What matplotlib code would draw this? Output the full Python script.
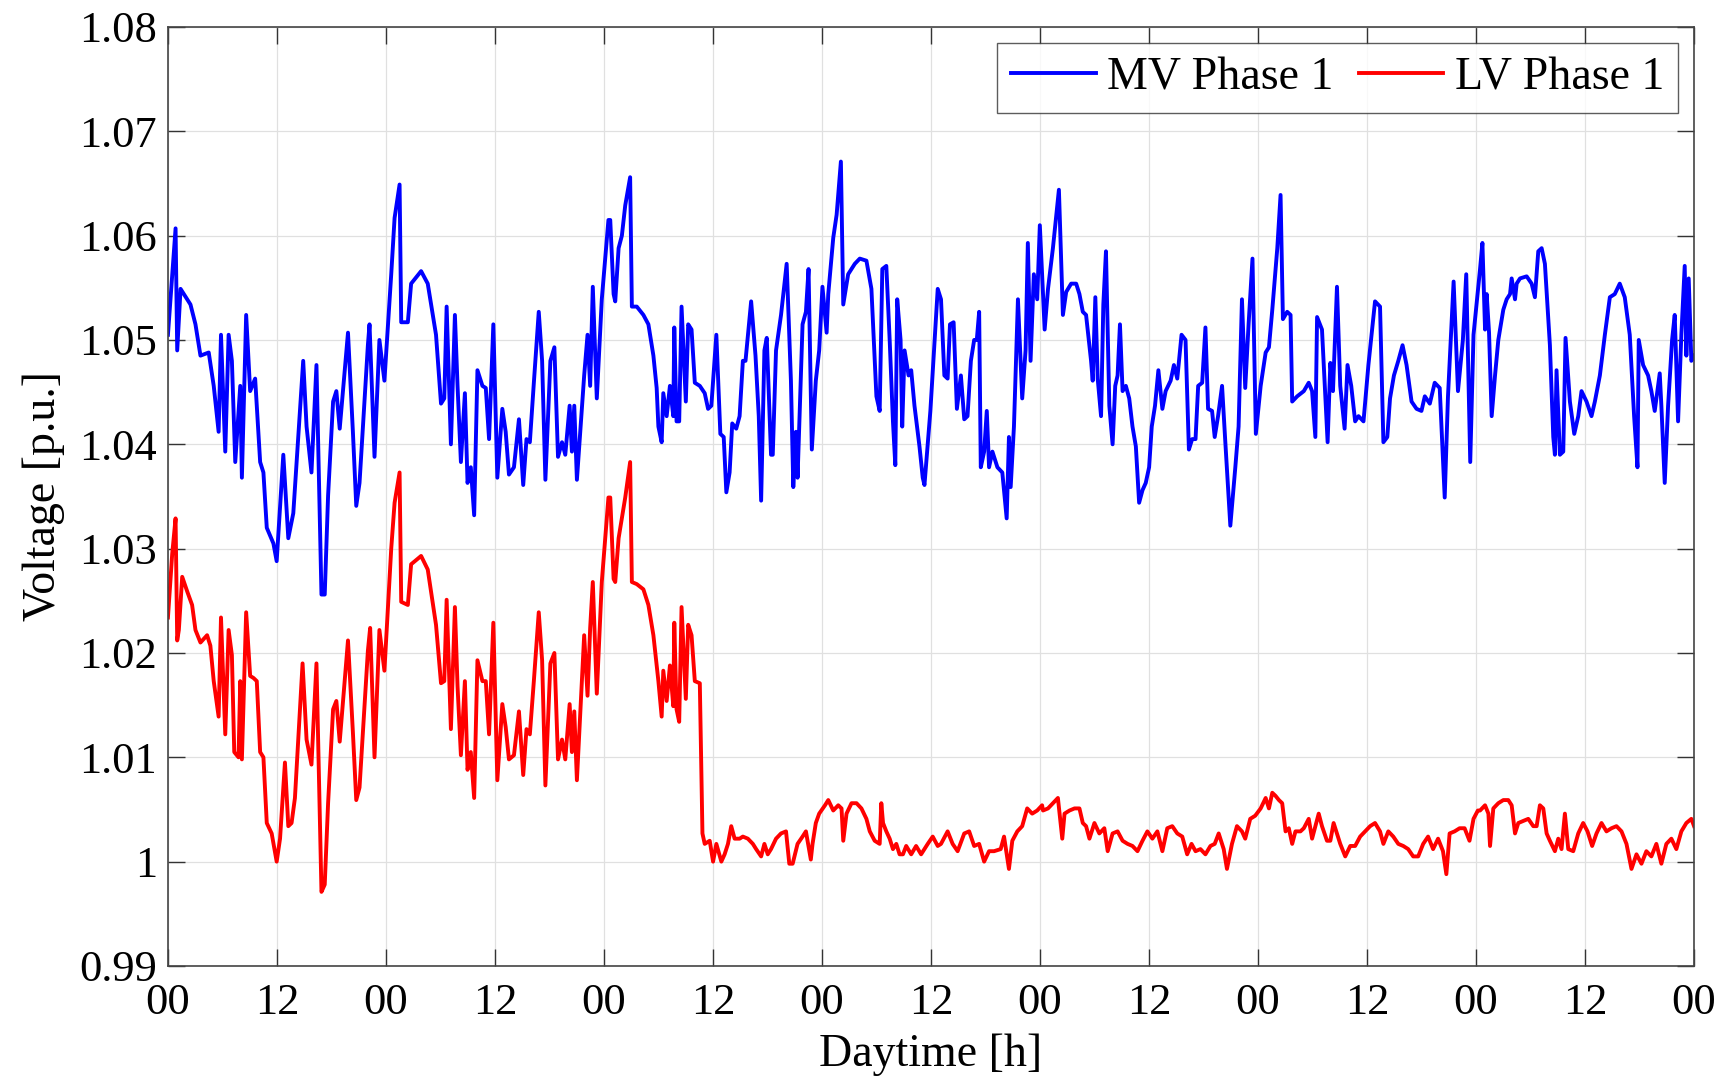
import numpy as np
import matplotlib
matplotlib.use("Agg")
from matplotlib import pyplot as plt

# hours since start, voltage in p.u.
mv_hours = [
    0, 0.84, 1.02, 1.39, 2.48, 3.03, 3.58, 4.49, 5.04, 5.58, 5.84, 6.31, 6.68, 7.04, 7.41, 7.96,
    8.14, 8.61, 9.05, 9.60, 10.15, 10.51, 10.88, 11.61, 11.97, 12.70, 13.25, 13.80, 14.89, 15.26,
    15.80, 16.35, 16.90, 17.26, 17.63, 18.18, 18.54, 18.91, 19.82, 20.36, 20.73, 21.09, 22.01,
    22.19, 22.74, 23.28, 23.83,
    24.58, 24.95, 25.50, 25.68, 26.41, 26.77, 27.87, 28.60, 29.51, 30.06, 30.42, 30.68, 31.15,
    31.59, 31.88, 32.25, 32.69, 32.98, 33.34, 33.71, 34.07, 34.62, 34.99, 35.35, 35.82, 36.26,
    36.81, 37.18, 37.54, 38.09, 38.64, 39.11, 39.47, 39.84, 40.28, 40.82, 41.19, 41.55, 42.10,
    42.54, 42.94, 43.38, 43.74, 44.22, 44.47, 44.73, 45.02, 45.82, 46.19, 46.48, 46.77, 47.21,
    47.76, 48.49,
    48.69, 49.06, 49.24, 49.61, 49.97, 50.34, 50.88, 51.07, 51.61, 52.34, 52.89, 53.44, 53.80,
    53.99, 54.35, 54.53, 54.90, 55.26, 55.63, 55.74, 55.99, 56.28, 56.54, 57.01, 57.27, 57.64,
    58.00, 58.55, 59.09, 59.46, 59.82, 60.37, 60.81, 61.18, 61.47, 61.83, 62.12, 62.56, 62.93,
    63.29, 63.58, 64.20, 64.68, 65.04, 65.30, 65.66, 65.92, 66.39, 66.58, 66.94, 67.49, 68.11,
    68.58, 68.84, 69.13, 69.31, 69.86, 70.23, 70.52, 70.88, 71.32, 71.69, 72.05,
    72.51, 72.69, 73.24, 73.61, 74.08, 74.34, 74.88, 75.61, 76.16, 76.89, 77.44, 77.99, 78.35,
    78.64, 79.08, 79.45, 79.81, 80.07, 80.28, 80.65, 80.83, 81.09, 81.53, 81.82, 82.18, 82.73,
    83.09, 83.28, 83.93, 84.74, 85.10, 85.47, 85.83, 86.09, 86.49, 86.85, 87.29, 87.66, 88.02,
    88.39, 88.75, 89.04, 89.30, 89.48, 89.85, 90.14, 90.39, 90.76, 91.31, 91.85, 92.33, 92.58,
    92.77, 93.13, 93.57, 94.04, 94.41, 94.66, 94.96, 95.32, 95.69, 95.98,
    96.51, 96.88, 97.42, 98.08, 98.52, 98.88, 99.43, 99.98, 100.34, 100.71, 101.07, 101.62,
    101.80, 102.09, 102.35, 102.72, 102.97, 103.26, 103.63, 103.99, 104.28, 104.54, 104.80,
    105.09, 105.45, 105.82, 106.18, 106.55, 106.91, 107.28, 107.64, 108.01, 108.30, 108.66,
    109.03, 109.47, 109.83, 110.38, 110.74, 111.11, 111.58, 112.02, 112.39, 112.75, 113.12,
    113.41, 113.85, 114.21, 114.50, 114.94, 115.23, 115.60, 116.04, 116.40, 116.95, 117.50,
    117.86, 118.23, 118.59, 118.96, 119.39, 119.76,
    120.29, 120.84, 121.20, 121.57, 122.12, 122.48, 122.74, 123.21, 123.58, 123.76, 124.31,
    125.04, 125.58, 125.95, 126.31, 126.50, 127.04, 127.41, 127.66, 127.96, 128.25, 128.69,
    129.05, 129.53, 129.85, 130.26, 130.69, 131.06, 131.61, 132.15, 132.88, 133.43, 133.80,
    134.23, 134.53, 134.96, 135.44, 135.91, 136.35, 136.90, 137.45, 137.99, 138.36, 138.91,
    139.45, 140.00, 140.55, 140.91, 141.53, 142.01, 142.55, 142.92, 143.36, 143.72,
    144.44, 144.70, 144.99, 145.17, 145.43, 145.72, 146.09, 146.45, 147.00, 147.37, 147.74,
    147.92, 148.29, 148.47, 148.84, 149.57, 150.12, 150.48, 150.85, 151.22, 151.58, 152.13,
    152.50, 152.68, 152.86, 153.23, 153.60, 153.85, 154.33, 154.81, 155.25, 155.61, 156.16,
    156.71, 157.08, 157.63, 158.18, 158.73, 159.27, 159.82, 160.37, 160.92, 161.40, 161.77,
    161.91, 162.39, 162.94, 163.30, 163.67, 164.22, 164.40, 164.77, 165.14, 165.58, 165.87,
    166.24, 166.60, 166.97, 167.15, 167.41, 167.70, 168.0,
]
mv_volts = [
    1.0505, 1.0607, 1.0490, 1.0549, 1.0534, 1.0515, 1.0485, 1.0488, 1.0456, 1.0412, 1.0505,
    1.0393, 1.0505, 1.0480, 1.0383, 1.0456, 1.0368, 1.0524, 1.0451, 1.0463, 1.0383, 1.0373,
    1.0320, 1.0305, 1.0288, 1.0390, 1.0310, 1.0334, 1.0480, 1.0417, 1.0373, 1.0476, 1.0256,
    1.0256, 1.0351, 1.0441, 1.0451, 1.0415, 1.0507, 1.0412, 1.0341, 1.0363, 1.0495, 1.0515,
    1.0388, 1.0500, 1.0461,
    1.0563, 1.0617, 1.0649, 1.0517, 1.0517, 1.0554, 1.0566, 1.0554, 1.0505, 1.0439, 1.0444,
    1.0532, 1.0400, 1.0524, 1.0456, 1.0383, 1.0449, 1.0363, 1.0378, 1.0332, 1.0471, 1.0456,
    1.0454, 1.0405, 1.0515, 1.0368, 1.0434, 1.0412, 1.0371, 1.0378, 1.0424, 1.0361, 1.0405,
    1.0402, 1.0459, 1.0527, 1.0480, 1.0366, 1.0480, 1.0493, 1.0388, 1.0402, 1.0390, 1.0437,
    1.0393, 1.0437, 1.0366, 1.0466, 1.0505, 1.0456, 1.0551, 1.0444, 1.0539, 1.0615,
    1.0615, 1.0544, 1.0537, 1.0588, 1.0600, 1.0629, 1.0656, 1.0532, 1.0532, 1.0524, 1.0515,
    1.0485, 1.0454, 1.0417, 1.0402, 1.0449, 1.0427, 1.0456, 1.0427, 1.0512, 1.0422, 1.0422,
    1.0532, 1.0441, 1.0515, 1.0510, 1.0459, 1.0456, 1.0449, 1.0434, 1.0437, 1.0505, 1.0410,
    1.0407, 1.0354, 1.0373, 1.0420, 1.0415, 1.0427, 1.0480, 1.0480, 1.0537, 1.0485, 1.0427,
    1.0346, 1.0490, 1.0502, 1.0390, 1.0390, 1.0490, 1.0524, 1.0573, 1.0461, 1.0359, 1.0412,
    1.0368, 1.0515, 1.0527, 1.0568, 1.0395, 1.0461, 1.0490, 1.0551,
    1.0507, 1.0544, 1.0598, 1.0620, 1.0671, 1.0534, 1.0563, 1.0573, 1.0578, 1.0576, 1.0549,
    1.0446, 1.0432, 1.0568, 1.0571, 1.0500, 1.0422, 1.0380, 1.0539, 1.0500, 1.0417, 1.0490,
    1.0466, 1.0471, 1.0437, 1.0398, 1.0368, 1.0361, 1.0432, 1.0549, 1.0539, 1.0466, 1.0463,
    1.0515, 1.0517, 1.0434, 1.0466, 1.0424, 1.0427, 1.0480, 1.0500, 1.0500, 1.0527, 1.0378,
    1.0393, 1.0432, 1.0378, 1.0393, 1.0378, 1.0373, 1.0329, 1.0407, 1.0359, 1.0417, 1.0539,
    1.0444, 1.0490, 1.0593, 1.0480, 1.0563, 1.0539, 1.0610,
    1.0510, 1.0549, 1.0588, 1.0644, 1.0524, 1.0546, 1.0554, 1.0554, 1.0544, 1.0527, 1.0524,
    1.0480, 1.0461, 1.0541, 1.0463, 1.0427, 1.0534, 1.0585, 1.0437, 1.0400, 1.0456, 1.0466,
    1.0515, 1.0451, 1.0456, 1.0444, 1.0417, 1.0398, 1.0344, 1.0356, 1.0363, 1.0378, 1.0417,
    1.0437, 1.0471, 1.0434, 1.0451, 1.0461, 1.0476, 1.0463, 1.0505, 1.0500, 1.0395, 1.0405,
    1.0405, 1.0456, 1.0459, 1.0512, 1.0434, 1.0432, 1.0407, 1.0427, 1.0456, 1.0402, 1.0322,
    1.0378, 1.0417, 1.0539, 1.0454, 1.0515, 1.0578, 1.0410,
    1.0456, 1.0488, 1.0493, 1.0529, 1.0588, 1.0639, 1.0520, 1.0527, 1.0524, 1.0441, 1.0446,
    1.0451, 1.0459, 1.0451, 1.0407, 1.0522, 1.0510, 1.0446, 1.0402, 1.0478, 1.0451, 1.0551,
    1.0456, 1.0415, 1.0476, 1.0456, 1.0422, 1.0427, 1.0422, 1.0476, 1.0537, 1.0532, 1.0402,
    1.0407, 1.0444, 1.0466, 1.0480, 1.0495, 1.0476, 1.0441, 1.0434, 1.0432, 1.0446, 1.0439,
    1.0459, 1.0454, 1.0349, 1.0446, 1.0556, 1.0451, 1.0500, 1.0563, 1.0383, 1.0505,
    1.0568, 1.0593, 1.0510, 1.0544, 1.0507, 1.0427, 1.0466, 1.0500, 1.0529, 1.0539, 1.0544,
    1.0559, 1.0539, 1.0554, 1.0559, 1.0561, 1.0554, 1.0541, 1.0585, 1.0588, 1.0573, 1.0495,
    1.0407, 1.0390, 1.0471, 1.0390, 1.0393, 1.0502, 1.0441, 1.0410, 1.0427, 1.0451, 1.0441,
    1.0427, 1.0441, 1.0466, 1.0505, 1.0541, 1.0544, 1.0554, 1.0541, 1.0505, 1.0427, 1.0378,
    1.0500, 1.0476, 1.0466, 1.0451, 1.0432, 1.0468, 1.0437, 1.0363, 1.0437, 1.0500, 1.0524,
    1.0422, 1.0505, 1.0571, 1.0485, 1.0559, 1.0480, 1.0485,
]

lv_hours = [
    0, 0.47, 0.84, 1.02, 1.20, 1.57, 2.12, 2.66, 3.03, 3.58, 4.31, 4.67, 5.04, 5.58, 5.84, 6.31,
    6.68, 7.04, 7.30, 7.77, 7.96, 8.14, 8.61, 9.05, 9.42, 9.78, 10.15, 10.51, 10.88, 11.42,
    11.97, 12.34, 12.88, 13.25, 13.61, 13.98, 14.82, 15.26, 15.80, 16.35, 16.90, 17.26, 17.63,
    18.18, 18.54, 18.91, 19.82, 20.36, 20.73, 21.09, 22.01, 22.26, 22.74, 23.28, 23.83,
    24.58, 24.95, 25.50, 25.68, 26.41, 26.77, 27.87, 28.60, 29.51, 30.06, 30.42, 30.68, 31.15,
    31.59, 31.88, 32.25, 32.69, 32.98, 33.34, 33.71, 34.07, 34.62, 34.99, 35.35, 35.82, 36.26,
    36.81, 37.18, 37.54, 38.09, 38.64, 39.11, 39.47, 39.84, 40.28, 40.82, 41.19, 41.55, 42.10,
    42.54, 42.94, 43.38, 43.74, 44.22, 44.47, 44.73, 45.02, 45.82, 46.19, 46.48, 46.77, 47.21,
    47.76, 48.49,
    48.69, 49.06, 49.24, 49.61, 49.97, 50.34, 50.88, 51.07, 51.61, 52.34, 52.89, 53.44, 53.80,
    53.99, 54.35, 54.53, 54.90, 55.26, 55.63, 55.74, 55.99, 56.28, 56.54, 57.01, 57.27, 57.64,
    58.00, 58.55, 58.84, 59.09, 59.64, 60.01, 60.37, 60.92, 61.28, 61.65, 62.01, 62.38, 62.93,
    63.29, 63.84, 64.39, 64.75, 65.30, 65.66, 66.03, 66.39, 66.94, 67.49, 68.04, 68.40, 68.77,
    69.31, 69.86, 70.23, 70.77, 70.96, 71.32, 71.69,
    72.33, 72.69, 73.24, 73.79, 74.15, 74.34, 74.70, 75.25, 75.80, 76.34, 76.89, 77.26, 77.80,
    78.35, 78.53, 78.72, 79.08, 79.45, 79.81, 80.18, 80.54, 80.91, 81.27, 81.82, 82.36, 82.91,
    83.64, 84.19, 84.74, 85.10, 85.83, 86.38, 86.93, 87.66, 88.20, 88.75, 89.30, 89.85, 90.39,
    90.94, 91.67, 92.04, 92.58, 92.95, 93.50, 94.04, 94.59, 95.14, 95.69, 96.23,
    96.33, 96.88, 97.42, 97.97, 98.45, 98.70, 99.25, 99.80, 100.34, 100.71, 101.07, 101.44,
    101.99, 102.53, 103.08, 103.45, 103.99, 104.54, 105.09, 105.64, 106.18, 106.73, 107.28,
    107.82, 108.37, 108.92, 109.47, 110.01, 110.56, 111.11, 111.66, 112.20, 112.68, 113.12,
    113.66, 114.21, 114.76, 115.23, 115.67, 116.22, 116.58, 117.13, 117.68, 118.23, 118.59,
    119.14, 119.69,
    120.29, 120.84, 121.20, 121.57, 121.93, 122.30, 122.66, 123.03, 123.39, 123.76, 124.12,
    124.67, 125.04, 125.58, 125.95, 126.31, 126.68, 127.04, 127.59, 127.96, 128.32, 128.69,
    129.05, 129.60, 130.15, 130.69, 131.24, 131.79, 132.34, 132.88, 133.43, 133.80, 134.34,
    134.89, 135.44, 135.99, 136.53, 137.08, 137.63, 138.18, 138.72, 139.27, 139.82, 140.36,
    140.73, 141.09, 141.64, 142.19, 142.74, 143.28, 143.72, 144.20,
    144.44, 144.99, 145.36, 145.54, 145.90, 146.45, 147.00, 147.55, 147.92, 148.29, 148.65,
    149.20, 149.75, 150.30, 150.67, 151.03, 151.40, 151.77, 152.13, 152.68, 153.05, 153.41,
    153.78, 154.15, 154.70, 155.25, 155.79, 156.27, 156.78, 157.26, 157.81, 158.36, 158.91,
    159.46, 160.01, 160.56, 161.11, 161.66, 162.21, 162.75, 163.30, 163.85, 164.40, 164.95,
    165.50, 166.05, 166.60, 167.15, 167.70, 168.0,
]
lv_volts = [
    1.0234, 1.0295, 1.0329, 1.0212, 1.0222, 1.0273, 1.0259, 1.0246, 1.0222, 1.0210, 1.0217,
    1.0207, 1.0173, 1.0139, 1.0234, 1.0122, 1.0222, 1.0198, 1.0105, 1.0100, 1.0173, 1.0098,
    1.0239, 1.0178, 1.0176, 1.0173, 1.0105, 1.0100, 1.0037, 1.0027, 1.0000, 1.0022, 1.0095,
    1.0034, 1.0037, 1.0061, 1.0190, 1.0117, 1.0093, 1.0190, 0.9971, 0.9978, 1.0056, 1.0146,
    1.0154, 1.0115, 1.0212, 1.0124, 1.0059, 1.0071, 1.0202, 1.0224, 1.0100, 1.0222, 1.0183,
    1.0300, 1.0344, 1.0373, 1.0249, 1.0246, 1.0285, 1.0293, 1.0280, 1.0227, 1.0171, 1.0173,
    1.0251, 1.0127, 1.0244, 1.0168, 1.0102, 1.0173, 1.0088, 1.0105, 1.0061, 1.0193, 1.0173,
    1.0173, 1.0122, 1.0229, 1.0078, 1.0151, 1.0129, 1.0098, 1.0102, 1.0144, 1.0083, 1.0127,
    1.0122, 1.0173, 1.0239, 1.0193, 1.0073, 1.0190, 1.0200, 1.0098, 1.0117, 1.0098, 1.0151,
    1.0105, 1.0144, 1.0078, 1.0217, 1.0159, 1.0224, 1.0268, 1.0161, 1.0268, 1.0349,
    1.0349, 1.0271, 1.0268, 1.0310, 1.0329, 1.0349, 1.0383, 1.0268, 1.0266, 1.0261, 1.0246,
    1.0217, 1.0188, 1.0173, 1.0139, 1.0183, 1.0154, 1.0188, 1.0149, 1.0229, 1.0146, 1.0134,
    1.0244, 1.0156, 1.0227, 1.0217, 1.0173, 1.0171, 1.0027, 1.0017, 1.0020, 1.0000, 1.0017,
    1.0000, 1.0007, 1.0017, 1.0034, 1.0022, 1.0022, 1.0024, 1.0022, 1.0017, 1.0012, 1.0005,
    1.0017, 1.0007, 1.0012, 1.0022, 1.0027, 1.0029, 0.9998, 0.9998, 1.0017, 1.0024, 1.0029,
    1.0002, 1.0017, 1.0037, 1.0046,
    1.0054, 1.0059, 1.0049, 1.0054, 1.0051, 1.0020, 1.0046, 1.0056, 1.0056, 1.0051, 1.0041,
    1.0029, 1.0020, 1.0017, 1.0056, 1.0037, 1.0029, 1.0022, 1.0012, 1.0017, 1.0007, 1.0007,
    1.0015, 1.0007, 1.0015, 1.0007, 1.0017, 1.0024, 1.0015, 1.0017, 1.0029, 1.0017, 1.0010,
    1.0027, 1.0029, 1.0015, 1.0017, 1.0000, 1.0010, 1.0010, 1.0012, 1.0024, 0.9993, 1.0020,
    1.0029, 1.0034, 1.0051, 1.0046, 1.0049, 1.0054,
    1.0049, 1.0051, 1.0056, 1.0061, 1.0022, 1.0046, 1.0049, 1.0051, 1.0051, 1.0037, 1.0034,
    1.0022, 1.0037, 1.0027, 1.0032, 1.0010, 1.0027, 1.0029, 1.0020, 1.0017, 1.0015, 1.0010,
    1.0020, 1.0029, 1.0022, 1.0029, 1.0010, 1.0032, 1.0034, 1.0027, 1.0024, 1.0007, 1.0017,
    1.0010, 1.0012, 1.0007, 1.0015, 1.0017, 1.0027, 1.0012, 0.9993, 1.0017, 1.0034, 1.0029,
    1.0022, 1.0041, 1.0044,
    1.0051, 1.0061, 1.0051, 1.0066, 1.0063, 1.0059, 1.0056, 1.0029, 1.0032, 1.0017, 1.0029,
    1.0029, 1.0032, 1.0041, 1.0022, 1.0034, 1.0046, 1.0034, 1.0020, 1.0020, 1.0037, 1.0027,
    1.0017, 1.0005, 1.0015, 1.0015, 1.0024, 1.0029, 1.0034, 1.0037, 1.0029, 1.0017, 1.0029,
    1.0024, 1.0017, 1.0015, 1.0012, 1.0005, 1.0005, 1.0017, 1.0024, 1.0012, 1.0022, 1.0010,
    0.9988, 1.0027, 1.0029, 1.0032, 1.0032, 1.0020, 1.0041, 1.0049,
    1.0049, 1.0054, 1.0046, 1.0015, 1.0051, 1.0056, 1.0059, 1.0059, 1.0054, 1.0027, 1.0037,
    1.0039, 1.0041, 1.0034, 1.0034, 1.0054, 1.0051, 1.0027, 1.0020, 1.0010, 1.0022, 1.0012,
    1.0046, 1.0012, 1.0010, 1.0027, 1.0037, 1.0029, 1.0015, 1.0027, 1.0037, 1.0029, 1.0032,
    1.0034, 1.0029, 1.0017, 0.9993, 1.0007, 0.9998, 1.0010, 1.0005, 1.0017, 0.9998, 1.0017,
    1.0022, 1.0012, 1.0029, 1.0037, 1.0041, 1.0034,
]

x_ticks = np.arange(0, 169, 12)
x_labels = ["00" if t % 24 == 0 else "12" for t in x_ticks]
y_ticks = [0.99, 1.00, 1.01, 1.02, 1.03, 1.04, 1.05, 1.06, 1.07, 1.08]
y_labels = ["0.99", "1", "1.01", "1.02", "1.03", "1.04", "1.05", "1.06", "1.07", "1.08"]

plt.rcParams["font.family"] = ["Liberation Serif", "DejaVu Serif"]

fig = plt.figure(figsize=(17.26, 10.8), dpi=100)
ax = fig.add_axes([0.0973, 0.1056, 0.8842, 0.8694])

ax.plot(mv_hours, mv_volts, color="#0000ff", lw=2.8, label="MV Phase 1")
ax.plot(lv_hours, lv_volts, color="#ff0000", lw=2.8, label="LV Phase 1")

ax.set_xlim(0, 168)
ax.set_ylim(0.99, 1.08)
ax.set_xticks(x_ticks)
ax.set_xticklabels(x_labels)
ax.set_yticks(y_ticks)
ax.set_yticklabels(y_labels)
ax.tick_params(direction="in", length=12, width=1, top=True, right=True,
               labelsize=32, color="#333333")
ax.tick_params(axis="x", pad=12)
ax.tick_params(axis="y", pad=8)
ax.grid(True, color="#e0e0e0", lw=0.9)
for s in ax.spines.values():
    s.set_color("#444444")
    s.set_linewidth(1.2)

ax.set_xlabel("Daytime [h]", fontsize=33, labelpad=8)
ax.set_ylabel("Voltage [p.u.]", fontsize=33, labelpad=10)

leg = ax.legend(loc="upper right", ncol=2, fontsize=33, frameon=True, fancybox=False,
                handlelength=1.85, handletextpad=0.25, columnspacing=0.55,
                borderpad=0.3, borderaxespad=0.35)
leg.get_frame().set_edgecolor("#333333")
leg.get_frame().set_linewidth(1.0)

fig.savefig("out.png", dpi=100)
